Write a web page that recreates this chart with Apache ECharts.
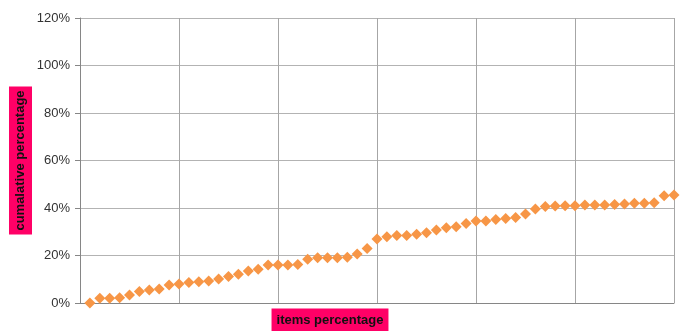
<!DOCTYPE html>
<html>
<head>
    <meta charset="UTF-8">
    <title>cumulative percentage</title>
    <script src="https://cdn.jsdelivr.net/npm/echarts/dist/echarts.min.js"></script>
</head>
<body style="margin:0;">
    <div id="main" style="width: 681px;height:331px;"></div>
    <script type="text/javascript">
        // item number (x) and cumulative percentage (y)
        var items = [1, 2, 3, 4, 5, 6, 7, 8, 9, 10,
                     11, 12, 13, 14, 15, 16, 17, 18, 19, 20,
                     21, 22, 23, 24, 25, 26, 27, 28, 29, 30,
                     31, 32, 33, 34, 35, 36, 37, 38, 39, 40,
                     41, 42, 43, 44, 45, 46, 47, 48, 49, 50,
                     51, 52, 53, 54, 55, 56, 57, 58, 59, 60];
        var cumulative = [0, 2.0, 2.0, 2.2, 3.4, 4.8, 5.5, 5.9, 7.6, 8.0,
                          8.6, 9.0, 9.3, 10.1, 11.2, 12.1, 13.5, 14.2, 16.0, 16.0,
                          16.0, 16.2, 18.4, 19.1, 19.1, 19.1, 19.3, 20.6, 23.0, 26.9,
                          27.9, 28.4, 28.4, 28.9, 29.6, 30.7, 31.7, 32.1, 33.5, 34.5,
                          34.5, 35.2, 35.6, 36.0, 37.5, 39.6, 40.6, 40.8, 40.9, 40.9,
                          41.3, 41.3, 41.3, 41.5, 41.7, 42.0, 42.0, 42.2, 45.2, 45.5];
        var yTicks = [0, 20, 40, 60, 80, 100, 120];

        var points = items.map(function (x, i) { return [x, cumulative[i]]; });

        var myChart = echarts.init(document.getElementById('main'));
        var option = {
            animation: false,
            grid: { left: 80, right: 7, top: 18, bottom: 28 },
            xAxis: {
                type: 'value',
                min: 0,
                max: 60,
                interval: 10,
                axisLabel: { show: false },
                axisTick: { show: false },
                axisLine: { show: true, lineStyle: { color: '#868686', width: 1 } },
                splitLine: { show: true, lineStyle: { color: '#a6a6a6', width: 1 } }
            },
            yAxis: {
                type: 'value',
                min: yTicks[0],
                max: yTicks[yTicks.length - 1],
                interval: 20,
                axisLabel: {
                    formatter: '{value}%',
                    fontFamily: 'Liberation Sans',
                    fontSize: 13,
                    color: '#333',
                    margin: 10
                },
                axisTick: { show: true, length: 5, lineStyle: { color: '#868686' } },
                axisLine: { show: true, lineStyle: { color: '#868686', width: 1 } },
                splitLine: { show: true, lineStyle: { color: '#b3b3b3', width: 1 } }
            },
            series: [
                {
                    type: 'scatter',
                    data: points,
                    symbol: 'diamond',
                    symbolSize: 11,
                    itemStyle: { color: '#F79646', opacity: 1 }
                }
            ],
            graphic: [
                {
                    type: 'text',
                    x: 20.5,
                    y: 160.5,
                    rotation: Math.PI / 2,
                    style: {
                        text: 'cumalative percentage',
                        fontFamily: 'Liberation Sans',
                        fontSize: 13,
                        fontWeight: 'bold',
                        fill: '#111',
                        backgroundColor: '#ff0066',
                        padding: [5, 4, 5, 4],
                        align: 'center',
                        verticalAlign: 'middle'
                    }
                },
                {
                    type: 'text',
                    x: 330,
                    y: 320,
                    style: {
                        text: 'items percentage',
                        fontFamily: 'Liberation Sans',
                        fontSize: 13,
                        fontWeight: 'bold',
                        fill: '#111',
                        backgroundColor: '#ff0066',
                        padding: [5, 5, 5, 5],
                        align: 'center',
                        verticalAlign: 'middle'
                    }
                }
            ]
        };
        myChart.setOption(option);
    </script>
</body>
</html>
